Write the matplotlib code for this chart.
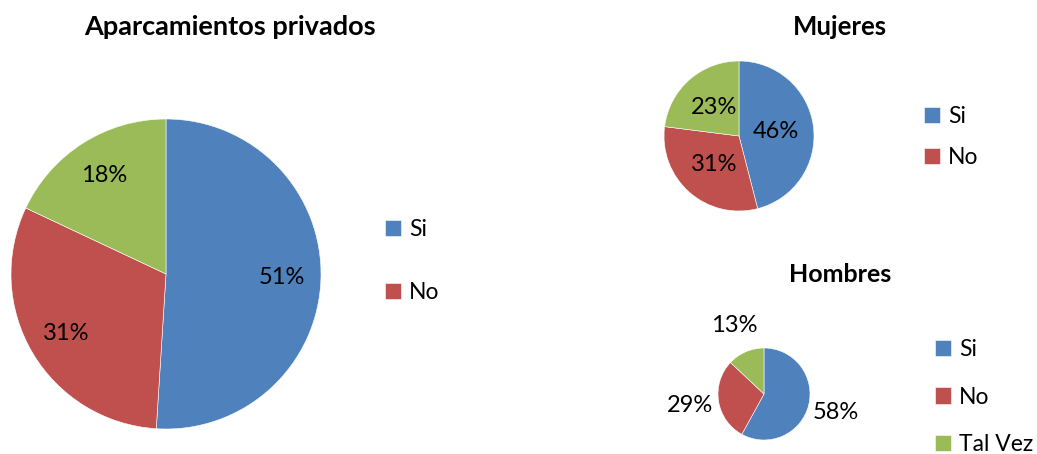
import matplotlib.pyplot as plt

plt.rcParams['font.family'] = ['Lato', 'DejaVu Sans']

W, H = 1037, 454

COLORS = ['#4F81BD', '#C0504D', '#9BBB59']

main_labels = ['Si', 'No', 'Tal Vez']
main_values = [51, 31, 18]

mujeres_values = [46, 31, 23]
hombres_values = [58, 29, 13]


def pie_axes(fig, cx, cy, r):
    # pixel center / radius -> figure fraction axes
    ax = fig.add_axes([(cx - r) / W, (H - cy - r) / H, 2 * r / W, 2 * r / H])
    ax.axis('off')
    return ax


def draw_pie(ax, values, pctdistance):
    wedges, texts, autotexts = ax.pie(values, colors=COLORS, startangle=90, counterclock=False,
                                      radius=1, autopct='%1.0f%%', pctdistance=pctdistance,
                                      wedgeprops=dict(edgecolor='white', linewidth=0.4),
                                      textprops=dict(fontsize=17, color='black'))
    # pie() resets the limits, so set them afterwards
    ax.set_xlim(-1, 1)
    ax.set_ylim(-1, 1)
    ax.set_aspect('equal')
    return wedges


fig = plt.figure(figsize=(W / 100, H / 100), dpi=100)

leg_kw = dict(loc='center left', frameon=False, fontsize=16.5, handlelength=0.7, handleheight=0.7,
              handletextpad=0.35, borderpad=0, borderaxespad=0)

# main pie
ax = pie_axes(fig, 166, 274, 155)
w_main = draw_pie(ax, main_values, 0.75)
fig.text(230 / W, 1 - 27 / H, 'Aparcamientos privados', ha='center', va='center',
         fontsize=19.5, fontweight='bold')
fig.legend(w_main[:2], main_labels[:2], bbox_to_anchor=(385 / W, 1 - 261 / H),
           labelspacing=1.85, **leg_kw)

# mujeres
ax = pie_axes(fig, 739, 136, 75)
w_muj = draw_pie(ax, mujeres_values, 0.5)
fig.text(840 / W, 1 - 27 / H, 'Mujeres', ha='center', va='center', fontsize=18.5, fontweight='bold')
fig.legend(w_muj[:2], main_labels[:2], bbox_to_anchor=(924 / W, 1 - 137 / H),
           labelspacing=0.85, **leg_kw)

# hombres
ax = pie_axes(fig, 764, 394, 46)
w_hom = draw_pie(ax, hombres_values, 1.62)
fig.text(840 / W, 1 - 275 / H, 'Hombres', ha='center', va='center', fontsize=18, fontweight='bold')
fig.legend(w_hom, main_labels, bbox_to_anchor=(935 / W, 1 - 397 / H),
           labelspacing=1.15, **leg_kw)

fig.savefig('out.png', dpi=100)
